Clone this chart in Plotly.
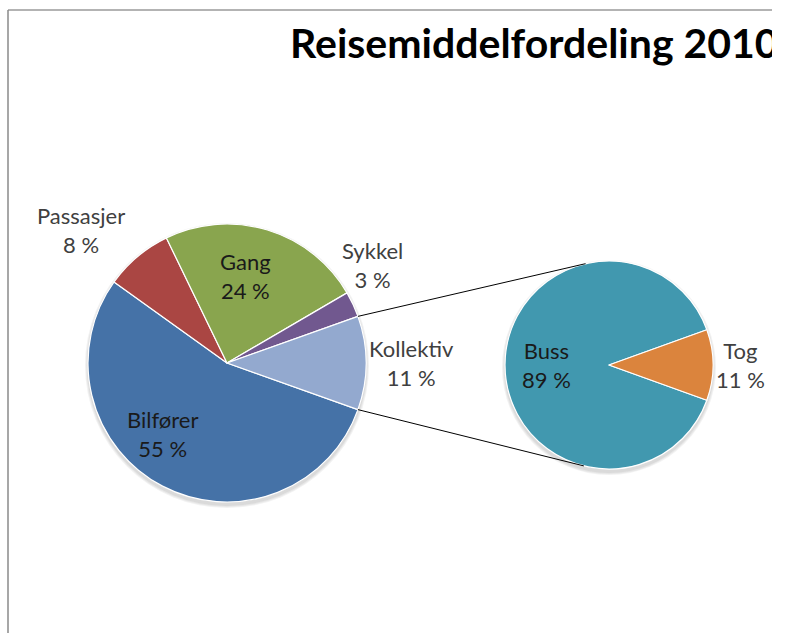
import math
import plotly.graph_objects as go

# ---- data ----
main_labels = ["Bilfører", "Passasjer", "Gang", "Sykkel", "Kollektiv"]
main_values = [55, 8, 24, 3, 11]
sub_labels = ["Buss", "Tog"]
sub_values = [89, 11]
title_text = "Reisemiddelfordeling 2010"

main_colors = ["#4572A7", "#AA4643", "#89A54E", "#71588F", "#93A9CF"]
sub_colors = ["#4198AF", "#DB843D"]

W, H = 772, 633   # figure is clipped at x=772 like the reference
# geometry (pixels)
MC, MR = (227, 363), 139
SC, SR = (609, 365), 104

def px(x):
    return x / W

def py(y):
    return 1 - y / H

def dom(c, r):
    return dict(x=[px(c[0] - r), px(c[0] + r)], y=[py(c[1] + r), py(c[1] - r)])

main_total = sum(main_values)
sub_total = sum(sub_values)
k_half = 180 * main_values[-1] / main_total      # half angle of split slice
t_half = 180 * sub_values[-1] / sub_total

fig = go.Figure()
fig.add_trace(go.Pie(
    labels=main_labels, values=main_values, sort=False, direction="clockwise",
    rotation=90 + k_half, textinfo="none", domain=dom(MC, MR),
    marker=dict(colors=main_colors, line=dict(color="white", width=1.2)),
    showlegend=False,
))
fig.add_trace(go.Pie(
    labels=sub_labels, values=sub_values, sort=False, direction="clockwise",
    rotation=90 + t_half, textinfo="none", domain=dom(SC, SR),
    marker=dict(colors=sub_colors, line=dict(color="white", width=1.2)),
    showlegend=False,
))

# label placement style: radius factor and angle nudge per slice
main_lab_f = [0.69, 1.42, 0.64, 1.26, 1.33]
main_lab_nudge = [-15, 7.6, 5, 9, 0]
main_inside = [True, False, True, False, False]
sub_lab_f = [0.6, 1.26]
sub_inside = [True, False]

annotations = []

def add_labels(labels, values, center, r, start, fac, nudge, inside):
    total = sum(values)
    a = start
    for lab, v, f, n, ins in zip(labels, values, fac, nudge, inside):
        span = 360 * v / total
        mid = a - span / 2 + n
        x = center[0] + f * r * math.cos(math.radians(mid))
        y = center[1] - f * r * math.sin(math.radians(mid))
        annotations.append(dict(
            x=px(x), y=py(y), xref="paper", yref="paper", showarrow=False,
            xanchor="center", yanchor="middle",
            text=f"{lab}<br>{v} %", align="center",
            font=dict(family="Lato", size=22, color="#1a1a1a" if ins else "#404040"),
        ))
        a -= span

add_labels(main_labels, main_values, MC, MR, -k_half, main_lab_f, main_lab_nudge, main_inside)
add_labels(sub_labels, sub_values, SC, SR, -t_half, sub_lab_f, [0, 0], sub_inside)

annotations.append(dict(
    x=px(288), y=py(43), xref="paper", yref="paper", xanchor="left", yanchor="middle",
    showarrow=False, text=f"<b>{title_text}</b>",
    font=dict(family="Lato", size=41, color="black"),
))

shapes = []
# soft shadows beneath pies
for c, r in ((MC, MR), (SC, SR)):
    for i, op in enumerate((0.10, 0.10, 0.12)):
        g = 4 - i
        shapes.append(dict(type="circle", xref="paper", yref="paper", layer="below",
                           x0=px(c[0] - r - g + 1), x1=px(c[0] + r + g - 1),
                           y0=py(c[1] + r + g + 2), y1=py(c[1] - r - g + 3),
                           fillcolor="#808080", opacity=op, line=dict(width=0)))

# connector lines: from split-slice edges to tangent points on sub pie
for sgn in (1, -1):
    ax = MC[0] + MR * math.cos(math.radians(sgn * k_half))
    ay_up = -MC[1] + MR * math.sin(math.radians(sgn * k_half))
    cx, cy_up = SC[0], -SC[1]
    dx, dy = ax - cx, ay_up - cy_up
    d = math.hypot(dx, dy)
    base = math.atan2(dy, dx)
    off = math.acos(SR / d)
    ang = base - sgn * off
    tx = cx + SR * math.cos(ang)
    ty = -(cy_up + SR * math.sin(ang))
    shapes.append(dict(type="line", xref="paper", yref="paper",
                       x0=px(ax), y0=py(-ay_up), x1=px(tx), y1=py(ty),
                       line=dict(color="black", width=1)))

# chart frame
shapes.append(dict(type="line", xref="paper", yref="paper", x0=px(8), y0=py(10), x1=1, y1=py(10),
                   line=dict(color="#9a9a9a", width=1.5)))
shapes.append(dict(type="line", xref="paper", yref="paper", x0=px(8), y0=py(10), x1=px(8), y1=0,
                   line=dict(color="#8a8a8a", width=1.5)))

fig.update_layout(
    width=W, height=H, margin=dict(l=0, r=0, t=0, b=0),
    paper_bgcolor="white", plot_bgcolor="white",
    annotations=annotations, shapes=shapes,
)
fig.write_html("out.html", config={"displayModeBar": False},
               post_script="document.body.style.margin='0';")
